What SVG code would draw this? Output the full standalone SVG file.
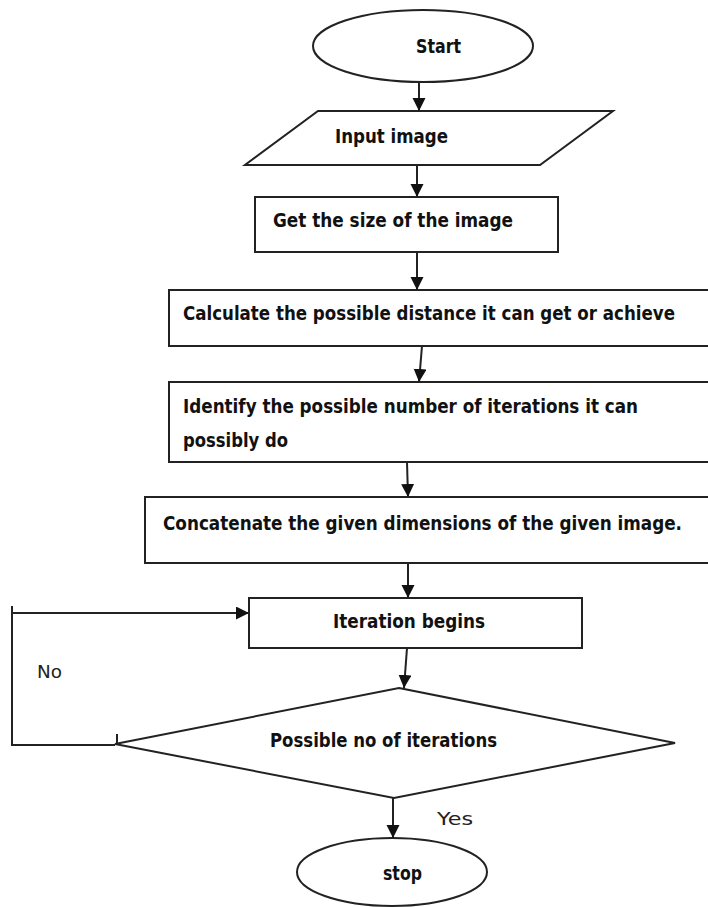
<svg xmlns="http://www.w3.org/2000/svg" width="708" height="907" viewBox="0 0 708 907">
<defs>
<marker id="ah" markerUnits="userSpaceOnUse" markerWidth="14" markerHeight="14" refX="13" refY="6.5" orient="auto">
<path d="M0,0 L13,6.5 L0,13 Z" fill="#111"/>
</marker>
<style>
.shape{fill:#fff;stroke:#222;stroke-width:2}
.conn{fill:none;stroke:#222;stroke-width:2}
.t{font-family:"Liberation Sans Narrow","DejaVu Sans Condensed","Liberation Sans",sans-serif;font-weight:bold;font-size:19px;fill:#111}
.l{font-family:"DejaVu Sans","Liberation Sans",sans-serif;font-size:18px;fill:#222}
</style>
</defs>
<rect width="708" height="907" fill="#fff"/>
<g id="start">
<ellipse class="shape" cx="423" cy="46" rx="110" ry="36"/>
<text class="t" x="416" y="53" textLength="45" lengthAdjust="spacingAndGlyphs">Start</text>
</g>
<g id="input">
<polygon class="shape" points="318,111 613,111 540,165 245,165"/>
<text class="t" x="335" y="143" textLength="113" lengthAdjust="spacingAndGlyphs">Input image</text>
</g>
<g id="size">
<rect class="shape" x="255" y="197" width="303" height="55"/>
<text class="t" x="273" y="227" textLength="240" lengthAdjust="spacingAndGlyphs">Get the size of the image</text>
</g>
<g id="calc">
<rect class="shape" x="169" y="290" width="560" height="56"/>
<text class="t" x="183" y="320" textLength="492" lengthAdjust="spacingAndGlyphs">Calculate the possible distance it can get or achieve</text>
</g>
<g id="identify">
<rect class="shape" x="169" y="382" width="560" height="80"/>
<text class="t" x="183" y="413" textLength="455" lengthAdjust="spacingAndGlyphs">Identify the possible number of iterations it can</text>
<text class="t" x="183" y="447" textLength="105" lengthAdjust="spacingAndGlyphs">possibly do</text>
</g>
<g id="concat">
<rect class="shape" x="145" y="497" width="584" height="66"/>
<text class="t" x="163" y="530" textLength="519" lengthAdjust="spacingAndGlyphs">Concatenate the given dimensions of the given image.</text>
</g>
<g id="iter">
<rect class="shape" x="249" y="598" width="333" height="50"/>
<text class="t" x="333" y="628" textLength="152" lengthAdjust="spacingAndGlyphs">Iteration begins</text>
</g>
<g id="decision">
<polygon class="shape" points="399,688 675,743 394,798 115,744"/>
<text class="t" x="270" y="747" textLength="227" lengthAdjust="spacingAndGlyphs">Possible no of iterations</text>
</g>
<g id="stop">
<ellipse class="shape" cx="392" cy="872" rx="95" ry="34"/>
<text class="t" x="383" y="880" textLength="39" lengthAdjust="spacingAndGlyphs">stop</text>
</g>
<g id="connectors">
<line class="conn" x1="419" y1="82" x2="419" y2="111" marker-end="url(#ah)"/>
<line class="conn" x1="417" y1="166" x2="417" y2="197" marker-end="url(#ah)"/>
<line class="conn" x1="417" y1="252" x2="417" y2="290" marker-end="url(#ah)"/>
<line class="conn" x1="422" y1="346" x2="419" y2="382" marker-end="url(#ah)"/>
<line class="conn" x1="407" y1="462" x2="408" y2="497" marker-end="url(#ah)"/>
<line class="conn" x1="408" y1="563" x2="408" y2="598" marker-end="url(#ah)"/>
<line class="conn" x1="407" y1="648" x2="404" y2="688" marker-end="url(#ah)"/>
<line class="conn" x1="393" y1="798" x2="393" y2="838" marker-end="url(#ah)"/>
<polyline class="conn" points="115,745 12,745 12,613 249,613" marker-end="url(#ah)"/>
<line class="conn" x1="12" y1="606" x2="12" y2="613"/>
<line class="conn" x1="117" y1="734" x2="117" y2="745"/>
<text class="l" x="37" y="678" textLength="25" lengthAdjust="spacingAndGlyphs">No</text>
<text class="l" x="437" y="825" textLength="36" lengthAdjust="spacingAndGlyphs">Yes</text>
</g>
</svg>
